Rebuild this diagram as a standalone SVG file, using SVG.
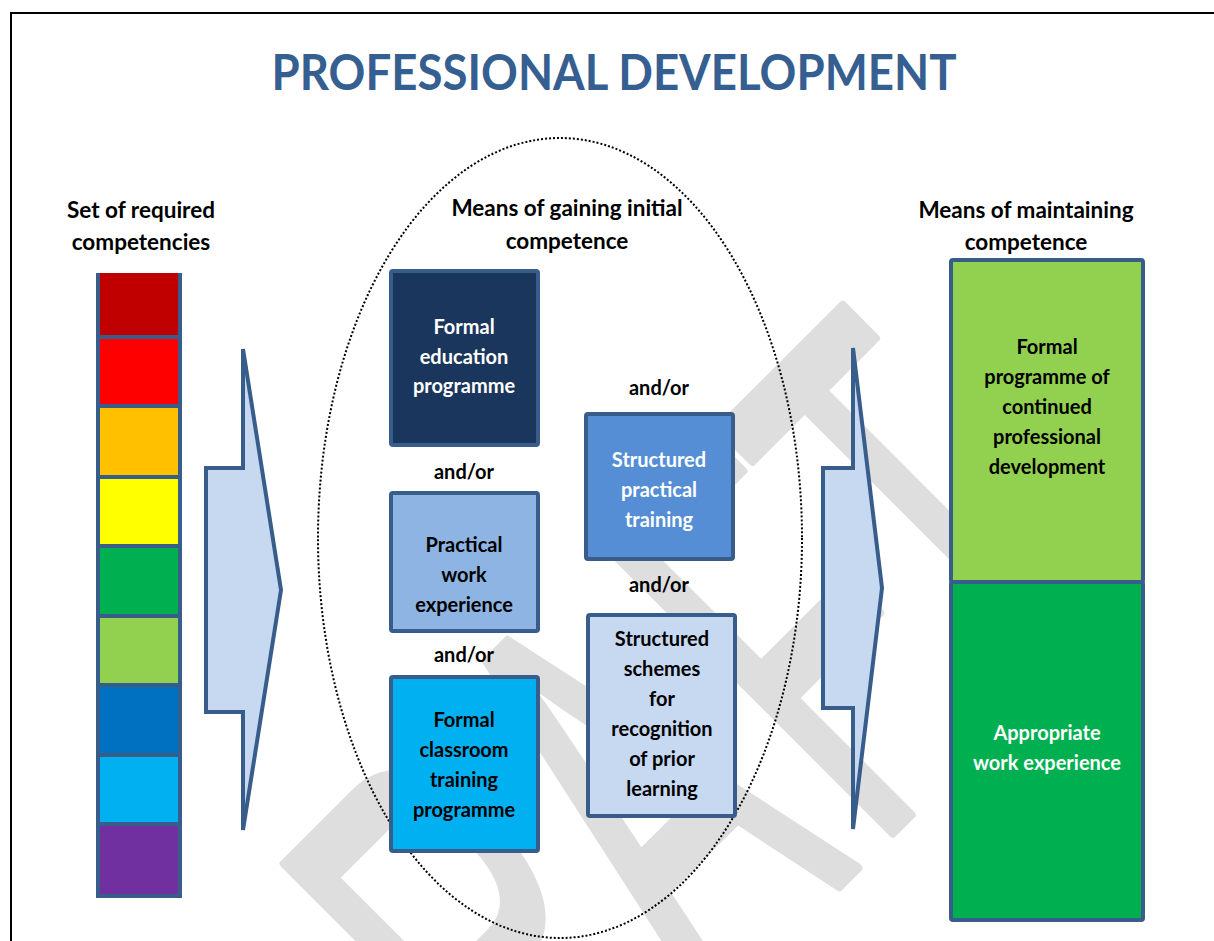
<svg xmlns="http://www.w3.org/2000/svg" width="1214" height="941" viewBox="0 0 1214 941">
<style>
text{font-family:Lato,"Open Sans","Liberation Sans",sans-serif;font-weight:bold;text-anchor:middle}
.hd{font-size:22.5px;fill:#000}
.bd{font-size:20px}
.w{fill:#fff}
.k{fill:#000}
.box{stroke:#385D8A;stroke-width:4}
.arr{fill:#C6D9F1;stroke:#385D8A;stroke-width:4;stroke-linejoin:miter}
</style>
<rect width="1214" height="941" fill="#fff"/>
<path d="M11 941 V13 H1214" fill="none" stroke="#000" stroke-width="2"/>
<text id="watermark" transform="translate(862.5,862.5) rotate(-45) scale(0.53,1)" x="-1366 -825 -404 28 372" y="0" style="font-family:'Liberation Sans',Arial,sans-serif;font-weight:normal;text-anchor:start;font-size:592px" fill="#DEDEDE" stroke="#DEDEDE" stroke-width="8" stroke-linejoin="round" vector-effect="non-scaling-stroke">DRAFT</text>
<text id="title" x="614" y="90" textLength="685" lengthAdjust="spacingAndGlyphs" style="font-size:50px;fill:#365F91">PROFESSIONAL DEVELOPMENT</text>
<g id="headers">
<text class="hd" x="141" y="218">Set of required</text>
<text class="hd" x="141" y="250">competencies</text>
<text class="hd" x="567" y="216">Means of gaining initial</text>
<text class="hd" x="567" y="249">competence</text>
<text class="hd" x="1026" y="218">Means of maintaining</text>
<text class="hd" x="1026" y="250">competence</text>
</g>
<g id="competency-stack">
<rect x="98" y="273" width="82" height="64" fill="#C00000"/>
<rect x="98" y="337" width="82" height="69" fill="#FF0000"/>
<rect x="98" y="406" width="82" height="71" fill="#FFC000"/>
<rect x="98" y="477" width="82" height="69" fill="#FFFF00"/>
<rect x="98" y="546" width="82" height="70" fill="#00B050"/>
<rect x="98" y="616" width="82" height="69" fill="#92D050"/>
<rect x="98" y="685" width="82" height="70" fill="#0070C0"/>
<rect x="98" y="755" width="82" height="69" fill="#00B0F0"/>
<rect x="98" y="824" width="82" height="72" fill="#7030A0"/>
<path d="M98 273 V896 H180 V273 M98 337 H180 M98 406 H180 M98 477 H180 M98 546 H180 M98 616 H180 M98 685 H180 M98 755 H180 M98 824 H180" fill="none" stroke="#385D8A" stroke-width="4"/>
</g>
<g id="connectors">
<polygon id="arrow-left" class="arr" points="243,349 281,590 243,830 243,712 206,712 206,468 243,468"/>
<polygon id="arrow-right" class="arr" points="853,348 882,588 853,829 853,708 823,708 823,468 853,468"/>
</g>
<ellipse id="initial-group" cx="560" cy="538" rx="242" ry="400" fill="none" stroke="#000" stroke-width="2" stroke-dasharray="2 2"/>
<g id="formal-education">
<rect class="box" x="391" y="271" width="147" height="174" rx="2" fill="#1B365D"/>
<text class="bd w" x="464" y="334">Formal</text>
<text class="bd w" x="464" y="364">education</text>
<text class="bd w" x="464" y="393">programme</text>
</g>
<text class="bd k" x="464" y="479">and/or</text>
<g id="practical-work">
<rect class="box" x="391" y="493" width="147" height="138" rx="2" fill="#8EB4E3"/>
<text class="bd k" x="464" y="552">Practical</text>
<text class="bd k" x="464" y="582">work</text>
<text class="bd k" x="464" y="612">experience</text>
</g>
<text class="bd k" x="464" y="662">and/or</text>
<g id="formal-classroom">
<rect class="box" x="391" y="677" width="147" height="174" rx="2" fill="#00B0F0"/>
<text class="bd k" x="464" y="727">Formal</text>
<text class="bd k" x="464" y="757">classroom</text>
<text class="bd k" x="464" y="787">training</text>
<text class="bd k" x="464" y="817">programme</text>
</g>
<text class="bd k" x="659" y="395">and/or</text>
<g id="structured-practical">
<rect class="box" x="586" y="414" width="147" height="145" rx="2" fill="#558ED5"/>
<text class="bd w" x="659" y="467">Structured</text>
<text class="bd w" x="659" y="497">practical</text>
<text class="bd w" x="659" y="527">training</text>
</g>
<text class="bd k" x="659" y="592">and/or</text>
<g id="structured-schemes">
<rect class="box" x="588" y="615" width="147" height="201" rx="2" fill="#C6D9F1"/>
<text class="bd k" x="662" y="646">Structured</text>
<text class="bd k" x="662" y="676">schemes</text>
<text class="bd k" x="662" y="706">for</text>
<text class="bd k" x="662" y="736">recognition</text>
<text class="bd k" x="662" y="766">of prior</text>
<text class="bd k" x="662" y="796">learning</text>
</g>
<g id="formal-cpd">
<rect class="box" x="951" y="260" width="192" height="322" rx="2" fill="#92D050"/>
<text class="bd k" x="1047" y="354">Formal</text>
<text class="bd k" x="1047" y="384">programme of</text>
<text class="bd k" x="1047" y="414">continued</text>
<text class="bd k" x="1047" y="444">professional</text>
<text class="bd k" x="1047" y="474">development</text>
</g>
<g id="appropriate-work">
<rect class="box" x="951" y="582" width="192" height="338" rx="2" fill="#00B050"/>
<text class="bd w" x="1047" y="740">Appropriate</text>
<text class="bd w" x="1047" y="770">work experience</text>
</g>
</svg>
